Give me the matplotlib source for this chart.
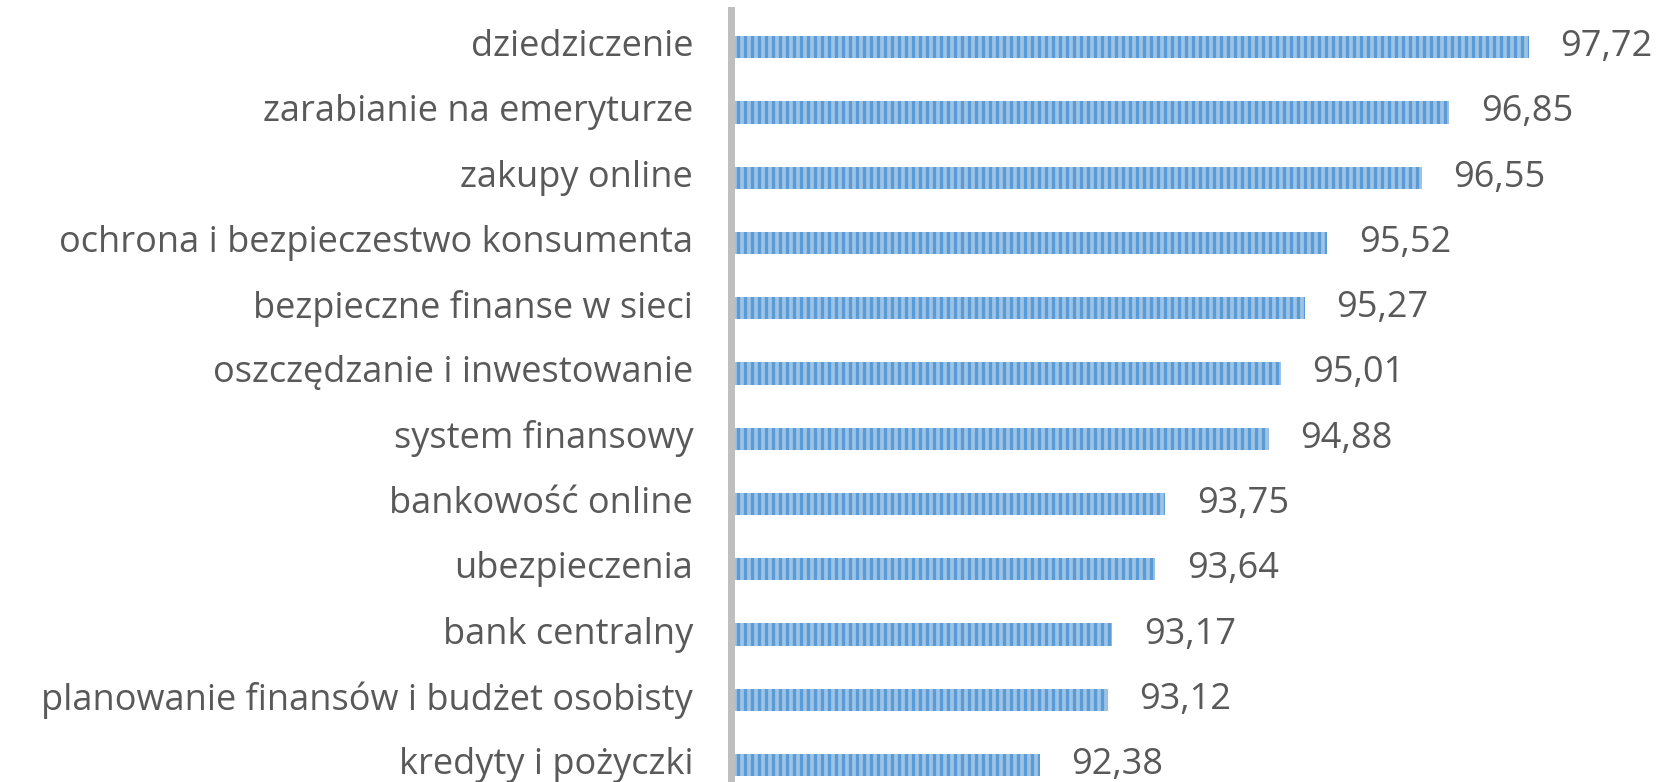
import matplotlib.pyplot as plt
import numpy as np

plt.rcParams["font.family"] = ["Open Sans", "DejaVu Sans"]
plt.rcParams["hatch.linewidth"] = 2.8
plt.rcParams["hatch.color"] = "#5B9BD5"

text_color = '#595959'
font_size = 31

categories = ['dziedziczenie', 'zarabianie na emeryturze', 'zakupy online',
              'ochrona i bezpieczestwo konsumenta', 'bezpieczne finanse w sieci',
              'oszczędzanie i inwestowanie', 'system finansowy', 'bankowość online',
              'ubezpieczenia', 'bank centralny',
              'planowanie finansów i budżet osobisty', 'kredyty i pożyczki']
values = [97.72, 96.85, 96.55, 95.52, 95.27, 95.01, 94.88, 93.75, 93.64, 93.17, 93.12, 92.38]

dpi = 84
fig = plt.figure(figsize=(1658 / dpi, 782 / dpi), dpi=dpi)
ax = fig.add_axes([730.5 / 1658, 0, 1 - 730.5 / 1658, 1 - 10 / 782])

y = np.arange(len(categories))
bars = ax.barh(y, values, height=0.34, color='#9DC3E6', edgecolor='#5B9BD5',
               linewidth=0, hatch='||')

ax.set_xlim(89, 99.13)
ax.set_ylim(11.26, -0.57)
ax.set_yticks(y)
ax.set_yticklabels(categories, fontsize=font_size, color=text_color, va='center')
ax.tick_params(axis='y', length=0, pad=32)
ax.set_xticks([])

for s in ['top', 'right', 'bottom']:
    ax.spines[s].set_visible(False)
ax.spines['left'].set_color('#BFBFBF')
ax.spines['left'].set_linewidth(6)

labels = [f'{v:.2f}'.replace('.', ',') for v in values]
ax.bar_label(bars, labels=labels, padding=27, fontsize=font_size, color=text_color)

plt.savefig('out.png', dpi=dpi)
